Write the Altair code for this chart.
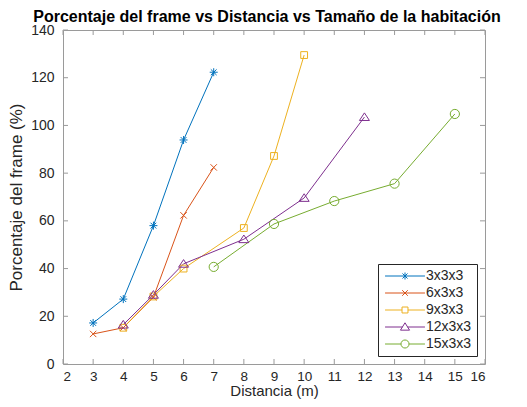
import altair as alt
import pandas as pd

# ---------------- data ----------------
series = ["3x3x3", "6x3x3", "9x3x3", "12x3x3", "15x3x3"]
colors = ["#0072BD", "#D95319", "#EDB120", "#7E2F8E", "#77AC30"]

x_3 = [3, 4, 5, 6, 7]
y_3 = [17.2, 27.2, 58.0, 93.9, 122.3]

x_6 = [3, 4, 5, 6, 7]
y_6 = [12.6, 15.2, 28.0, 62.3, 82.4]

x_9 = [4, 5, 6, 8, 9, 10]
y_9 = [15.2, 28.3, 40.0, 57.0, 87.2, 129.5]

x_12 = [4, 5, 6, 8, 10, 12]
y_12 = [16.5, 29.0, 42.0, 52.3, 69.6, 103.5]

x_15 = [7, 9, 11, 13, 15]
y_15 = [40.7, 58.7, 68.3, 75.6, 104.8]

x_ticks = list(range(2, 17))
y_ticks = list(range(0, 141, 20))

title = "Porcentaje del frame vs Distancia vs Tamaño de la habitación"
x_title = "Distancia (m)"
y_title = "Porcentaje del frame (%)"

# ---------------- table ----------------
rows = []
for name, xs, ys in zip(series, [x_3, x_6, x_9, x_12, x_15], [y_3, y_6, y_9, y_12, y_15]):
    for i, (a, b) in enumerate(zip(xs, ys)):
        rows.append({"serie": name, "distancia": a, "porcentaje": b, "orden": i})
df = pd.DataFrame(rows)
xt = pd.DataFrame({"distancia": x_ticks})
yt = pd.DataFrame({"porcentaje": y_ticks})

W, H = 422, 334
FONT = "Liberation Sans"
TXT = "#262626"
BOX = "#9a9a9a"

xscale = alt.Scale(domain=[2, 16], nice=False, zero=False)
yscale = alt.Scale(domain=[0, 140], nice=False, zero=False)
x_axis = alt.Axis(values=x_ticks, title=x_title, labelPadding=5, labelFontSize=13.5,
                  titlePadding=1, titleFontSize=15)
y_axis = alt.Axis(values=y_ticks, title=y_title, labelPadding=9, titlePadding=5)
x_enc = alt.X("distancia:Q", scale=xscale, axis=x_axis)
y_enc = alt.Y("porcentaje:Q", scale=yscale, axis=y_axis)

# marker shapes (plot)
asterisk = "M-1,0L1,0M0,-1L0,1M-0.72,-0.72L0.72,0.72M-0.72,0.72L0.72,-0.72"
xmark = "M-0.8,-0.8L0.8,0.8M-0.8,0.8L0.8,-0.8"
square = "M-0.85,-0.85L0.85,-0.85L0.85,0.85L-0.85,0.85Z"
triangle = "M0,-1.05L1.25,0.85L-1.25,0.85Z"
circle = "M-1.15,0A1.15,1.15 0 1,1 1.15,0A1.15,1.15 0 1,1 -1.15,0Z"
marker_paths = [asterisk, xmark, square, triangle, circle]

# legend symbols: line + marker
L = 5.7
leg_paths = [
    f"M-{L},0L{L},0M0,-1L0,1M-0.72,-0.72L0.72,0.72M-0.72,0.72L0.72,-0.72",
    f"M-{L},0L{L},0M-0.8,-0.8L0.8,0.8M-0.8,0.8L0.8,-0.8",
    f"M-{L},0L-0.85,0M0.85,0L{L},0M-0.85,-0.85L0.85,-0.85L0.85,0.85L-0.85,0.85Z",
    f"M-{L},0L-0.7,0M0.7,0L{L},0M0,-1.2L1.3,0.9L-1.3,0.9Z",
    f"M-{L},0L-1.15,0M1.15,0L{L},0M-1.15,0A1.15,1.15 0 1,1 1.15,0A1.15,1.15 0 1,1 -1.15,0Z",
]

color_plain = alt.Color("serie:N", scale=alt.Scale(domain=series, range=colors), legend=None)
shape_plain = alt.Shape("serie:N", scale=alt.Scale(domain=series, range=marker_paths), legend=None)

leg = alt.Legend(
    title=None, orient="none", legendX=315, legendY=234,
    padding=5, strokeColor=TXT, fillColor="white",
    labelFont=FONT, labelFontSize=14, labelColor=TXT,
    symbolSize=49, symbolStrokeWidth=1, symbolOffset=15, labelOffset=14,
    rowPadding=3,
)
color_leg = alt.Color("serie:N", scale=alt.Scale(domain=series, range=colors), legend=leg)
shape_leg = alt.Shape("serie:N", scale=alt.Scale(domain=series, range=leg_paths), legend=leg)

lines = alt.Chart(df).mark_line(strokeWidth=1).encode(
    x=x_enc, y=y_enc, color=color_plain, order="orden:Q"
)
points = alt.Chart(df).mark_point(filled=False, size=64, strokeWidth=1, opacity=1).encode(
    x=x_enc, y=y_enc, color=color_plain, shape=shape_plain
)
legend_layer = alt.Chart(df).transform_filter("false").mark_point(
    filled=False, size=49, strokeWidth=1, opacity=1
).encode(x=x_enc, y=y_enc, color=color_leg, shape=shape_leg)

# inward ticks on all four sides
tb = alt.Chart(xt).mark_rule(color=BOX, strokeWidth=1).encode(x=x_enc, y=alt.value(H), y2=alt.value(H - 5))
tt = alt.Chart(xt).mark_rule(color=BOX, strokeWidth=1).encode(x=x_enc, y=alt.value(0), y2=alt.value(5))
tl = alt.Chart(yt).mark_rule(color=BOX, strokeWidth=1).encode(y=y_enc, x=alt.value(0), x2=alt.value(5))
tr = alt.Chart(yt).mark_rule(color=BOX, strokeWidth=1).encode(y=y_enc, x=alt.value(W), x2=alt.value(W - 5))

chart = alt.layer(tb, tt, tl, tr, lines, points, legend_layer).resolve_scale(
    color="independent", shape="independent"
).properties(
    width=W, height=H,
    title=alt.TitleParams(title, anchor="middle", offset=5, dy=6.5, dx=-7),
    autosize=alt.AutoSizeParams(type="none"),
    padding={"left": 55, "top": 22, "right": 34, "bottom": 35},
).configure_view(
    stroke=BOX, strokeWidth=1
).configure_axis(
    labelFont=FONT, labelFontSize=14, labelColor=TXT,
    titleFont=FONT, titleFontSize=17, titleFontWeight="normal", titleColor=TXT,
    grid=False, domain=False, ticks=False,
).configure_title(
    font=FONT, fontSize=16, fontWeight="bold", color="#000000",
)

chart.save("out.html", embed_options={"renderer": "svg", "actions": False})
